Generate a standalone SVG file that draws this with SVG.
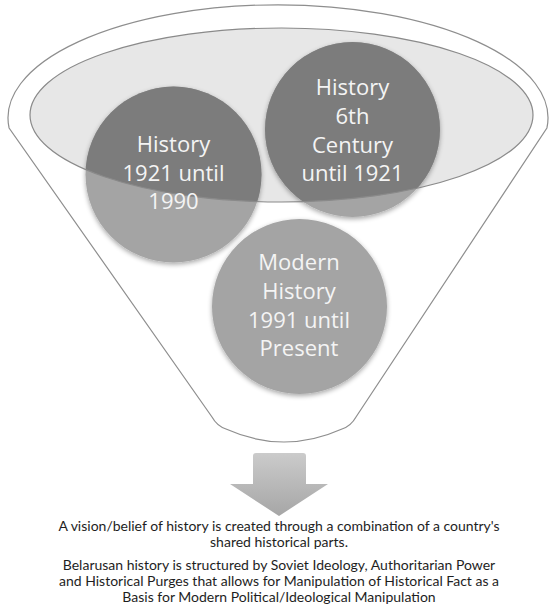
<svg xmlns="http://www.w3.org/2000/svg" width="549" height="606" viewBox="0 0 549 606">
<style>
.ctext{font-family:"Open Sans","Liberation Sans",sans-serif;font-size:22px;fill:#f4f4f4;text-anchor:middle}
.btext{font-family:Lato,"Open Sans","Liberation Sans",sans-serif;font-size:14px;fill:#1e1e1e;text-anchor:middle}
.light{fill:#a4a4a4}
.dark{fill:#7c7c7c}
</style>
<defs>
<clipPath id="ellClip"><ellipse cx="281.5" cy="115" rx="251.5" ry="87"/></clipPath>
<filter id="soft" x="-20%" y="-20%" width="140%" height="140%">
<feGaussianBlur in="SourceAlpha" stdDeviation="2.5"/>
<feOffset dx="0" dy="2" result="b"/>
<feComponentTransfer><feFuncA type="linear" slope="0.35"/></feComponentTransfer>
<feMerge><feMergeNode/><feMergeNode in="SourceGraphic"/></feMerge>
</filter>
<linearGradient id="arrowGrad" x1="0" y1="0" x2="0" y2="1">
<stop offset="0" stop-color="#cbcbcb"/>
<stop offset="1" stop-color="#a6a6a6"/>
</linearGradient>
</defs>
<rect width="549" height="606" fill="#ffffff"/>
<g id="funnel">
<path d="M9.1,128 A270,113 0 1 1 546.9,128 L356,417 Q351,426 342,429 Q284,455 226,429 Q217,426 212,417 Z" fill="#ffffff" stroke="#8e8e8e" stroke-width="1.2"/>
<ellipse id="funnel-top" cx="281.5" cy="115" rx="251.5" ry="87" fill="#e7e7e7"/>
</g>
<g id="circles-base" filter="url(#soft)">
<circle cx="173.5" cy="174.5" r="88" class="light"/>
<circle cx="352.5" cy="129.5" r="87.5" class="light"/>
<circle cx="299.5" cy="306.5" r="87.5" class="light"/>
</g>
<g clip-path="url(#ellClip)">
<circle cx="173.5" cy="174.5" r="88" class="dark"/>
<circle cx="352.5" cy="129.5" r="87.5" class="dark"/>
</g>
<ellipse cx="281.5" cy="115" rx="251.5" ry="87" fill="none" stroke="#8a8a8a" stroke-width="1.2"/>
<g id="node-1921-1990">
<text class="ctext" x="173.5" y="152">History</text>
<text class="ctext" x="173.5" y="181">1921 until</text>
<text class="ctext" x="173.5" y="209">1990</text>
</g>
<g id="node-6th-1921">
<text class="ctext" x="352.5" y="95">History</text>
<text class="ctext" x="352.5" y="124">6th</text>
<text class="ctext" x="352.5" y="153">Century</text>
<text class="ctext" x="352.5" y="181">until 1921</text>
</g>
<g id="node-modern">
<text class="ctext" x="299" y="270">Modern</text>
<text class="ctext" x="299" y="299">History</text>
<text class="ctext" x="299" y="328">1991 until</text>
<text class="ctext" x="299" y="356">Present</text>
</g>
<g id="connectors">
<path id="arrow" d="M253,456 Q253,453 256,453 L303,453 Q306,453 306,456 L306,484 L328,484 L279,516 L230,484 L253,484 Z" fill="url(#arrowGrad)"/>
</g>
<g id="caption">
<text class="btext" x="279" y="531">A vision/belief of history is created through a combination of a country's</text>
<text class="btext" x="279" y="547">shared historical parts.</text>
<text class="btext" x="279" y="570">Belarusan history is structured by Soviet Ideology, Authoritarian Power</text>
<text class="btext" x="279" y="586">and Historical Purges that allows for Manipulation of Historical Fact as a</text>
<text class="btext" x="279" y="602">Basis for Modern Political/Ideological Manipulation</text>
</g>
</svg>
